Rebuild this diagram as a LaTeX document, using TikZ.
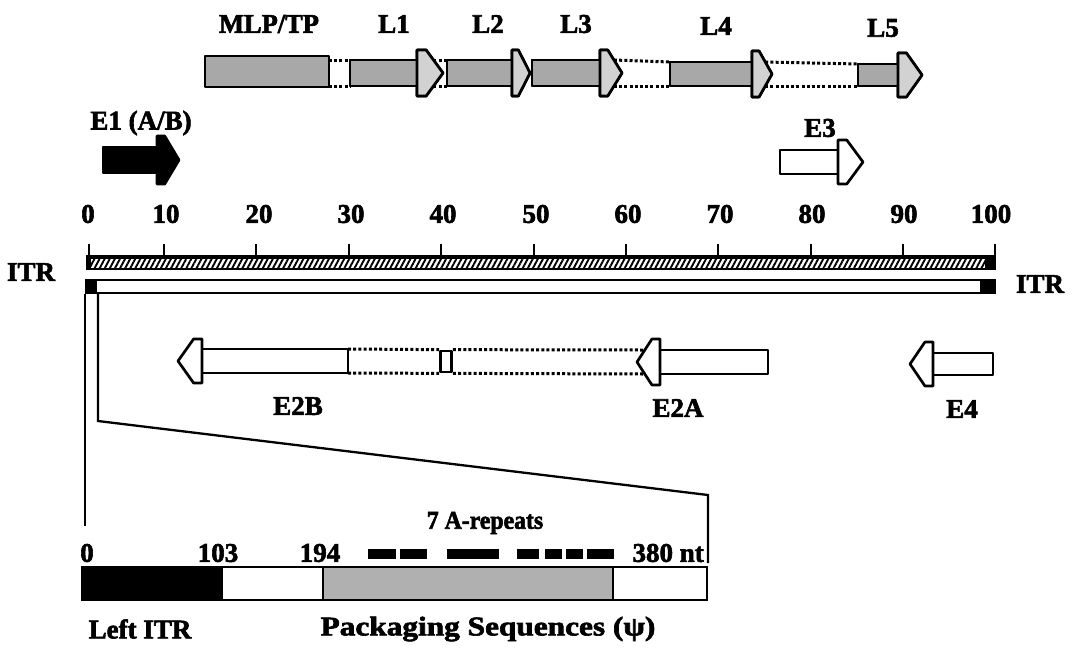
\documentclass[tikz,border=0pt]{standalone}
\usepackage{fontspec}
\setmainfont{Liberation Serif}[BoldFeatures={FakeBold=2.2}]
\usetikzlibrary{patterns.meta,calc}
\tikzset{
  lbl/.style={font=\bfseries\fontsize{27}{30}\selectfont, inner sep=0pt},
  outl/.style={draw=black, line width=2.7pt, line join=round},
  lbody/.style={outl, fill=gray!68},
  lhead/.style={outl, fill=gray!35},
  wbody/.style={outl, fill=white},
  bbody/.style={outl, fill=black},
  dots/.style={draw=black, line width=3pt, dash pattern=on 3pt off 2.2pt},
  thinline/.style={line width=2.3pt},
  tickmark/.style={line width=2.6pt},
}
% name, x0, xhead, xtip, ycenter, body half-height, head half-height, body style, head style
\newcommand{\genearrow}[9]{%
  \path[#8] (#2,{#5-#6}) rectangle (#3,{#5+#6});
  \path[#9] (#3,{#5-#7}) -- ({#3+0.35*(#4-#3)},{#5-#7}) -- (#4,#5)
     -- ({#3+0.35*(#4-#3)},{#5+#7}) -- (#3,{#5+#7}) -- cycle;
  \coordinate (#1-st) at (#2,{#5-#6});
  \coordinate (#1-sb) at (#2,{#5+#6});
  \coordinate (#1-et) at ({#4-0.65*(#4-#3)*#6/#7},{#5-#6});
  \coordinate (#1-eb) at ({#4-0.65*(#4-#3)*#6/#7},{#5+#6});
}
\begin{document}
\begin{tikzpicture}[x=1pt,y=-1pt]
\useasboundingbox[fill=white] (0,0) rectangle (1073,657);

% ---------- late genes ----------
\coordinate (mlp-tr) at (329,60);
\coordinate (mlp-br) at (329,86);
\genearrow{l1}{350}{417}{443}{73}{13}{23}{lbody}{lhead}
\genearrow{l2}{447}{512}{530}{73}{13}{23}{lbody}{lhead}
\genearrow{l3}{532}{600}{622}{73}{13}{23}{lbody}{lhead}
\genearrow{l4}{670}{752}{772}{74}{12}{23}{lbody}{lhead}
\genearrow{l5}{858}{898}{922}{75}{11}{22}{lbody}{lhead}
\draw[dots] (mlp-tr) -- (l1-st);
\draw[dots] (mlp-br) -- (l1-sb);
\draw[dots] (l1-et) -- (l2-st);
\draw[dots] (l1-eb) -- (l2-sb);
\draw[dots] (l3-et) -- (l4-st);
\draw[dots] (l3-eb) -- (l4-sb);
\draw[dots] (l4-et) -- (l5-st);
\draw[dots] (l4-eb) -- (l5-sb);
\node[lbody, minimum width=124pt, minimum height=31pt, inner sep=0pt] (mlp) at (267,71.5) {};
% arrows again, on top of the dotted links
\genearrow{l1}{350}{417}{443}{73}{13}{23}{lbody}{lhead}
\genearrow{l2}{447}{512}{530}{73}{13}{23}{lbody}{lhead}
\genearrow{l3}{532}{600}{622}{73}{13}{23}{lbody}{lhead}
\genearrow{l4}{670}{752}{772}{74}{12}{23}{lbody}{lhead}
\genearrow{l5}{858}{898}{922}{75}{11}{22}{lbody}{lhead}

\node[lbl] (tmlp) at (269,24) {\scalebox{0.98}[1]{MLP/TP}};
\node[lbl] (tl1) at (394,24) {L1};
\node[lbl] (tl2) at (488,24) {L2};
\node[lbl] (tl3) at (576,24) {L3};
\node[lbl] (tl4) at (716,26) {L4};
\node[lbl] (tl5) at (883,28) {L5};

% ---------- E1 and E3 ----------
\genearrow{e1}{103}{157}{179}{160}{13}{24}{bbody}{bbody}
\node[lbl] (te1) at (141,123) {E1 (A/B)};
\genearrow{e3}{780}{838}{863}{162}{12}{22}{wbody}{wbody}
\node[lbl] (te3) at (820,128) {E3};

% ---------- scale ----------
\foreach \v/\x in {0/88,10/166,20/259,30/351,40/443,50/536,60/628,70/720,80/812,90/904,100/991}
  \node[lbl] (s\v) at (\x,214) {\v};
\foreach \x in {89,164,256,349,441,534,626,718,811,903,995}
  \draw[tickmark] (\x,244) -- (\x,257);

% hatched strand
\path[pattern={Lines[angle=62,distance=4.5pt,line width=1.9pt]}] (86,258) rectangle (995,268);
\draw[line width=3.6pt] (86,257) -- (995,257);
\draw[line width=2.6pt] (86,269) -- (995,269);
\fill (86,256) rectangle (91,270);
\fill (985,256) rectangle (996,270);
% open strand
\draw[line width=2.8pt, fill=white] (86,280) rectangle (995,293);
\fill (85,278.6) rectangle (97,294.4);
\fill (980,278.6) rectangle (996.4,294.4);
\coordinate (itrL1) at (85,294);
\coordinate (itrL2) at (98,294);

\node[lbl] (itrl) at (31,272) {ITR};
\node[lbl] (itrr) at (1040,284) {ITR};

% ---------- E2 / E4 ----------
\genearrow{e2b}{348}{202}{178}{361}{12}{22}{wbody}{wbody}
\genearrow{e2a}{768}{660}{637}{362}{12}{23}{wbody}{wbody}
\genearrow{e4}{993}{933}{910}{364}{11}{22}{wbody}{wbody}
\node[outl, fill=white, minimum width=11pt, minimum height=21pt, inner sep=0pt] (ex) at (446,361.5) {};
\draw[dots] (e2b-st) -- (ex.north west);
\draw[dots] (e2b-sb) -- (ex.south west);
\draw[dots] (ex.north east) -- (e2a-et);
\draw[dots] (ex.south east) -- (e2a-eb);
\node[lbl] (te2b) at (298,406) {E2B};
\node[lbl] (te2a) at (678,408) {E2A};
\node[lbl] (te4) at (962,409) {E4};

% ---------- zoom lines ----------
\coordinate (zl) at (85,526);
\coordinate (zk1) at (98,421);
\coordinate (zk2) at (708,495);
\coordinate (zr) at (708,563);
\draw[thinline] (itrL1) -- (zl);
\draw[thinline, line join=miter] (itrL2) -- (zk1) -- (zk2) -- (zr);

% ---------- detail bar ----------
\node[lbl] (rep) at (485,523) {\scalebox{0.88}[0.95]{7 A-repeats}};
\node[lbl] (d0) at (87,553) {0};
\node[lbl] (d103) at (218,553) {103};
\node[lbl] (d194) at (320,553) {194};
\node[lbl, anchor=east] (d380) at (704,553) {380 nt};
\foreach \a/\b in {368/396,400/427,447/499,517/539,545/562,566/583,587/614}
  \fill (\a,548.5) rectangle (\b,558.5);

\fill[black] (82,567) rectangle (222,600);
\fill[white] (222,567) rectangle (323,600);
\fill[gray!62] (323,567) rectangle (613,600);
\fill[white] (613,567) rectangle (707,600);
\draw[line width=2.8pt] (82,567) rectangle (707,600);
\draw[line width=1.5pt] (222,567) -- (222,600) (323,567) -- (323,600) (613,567) -- (613,600);

\node[lbl] (tleft) at (140,629) {Left ITR};
\node[lbl] (tpack) at (488,629) {\scalebox{1.16}[1]{Packaging Sequences (ψ)}};
\end{tikzpicture}
\end{document}
